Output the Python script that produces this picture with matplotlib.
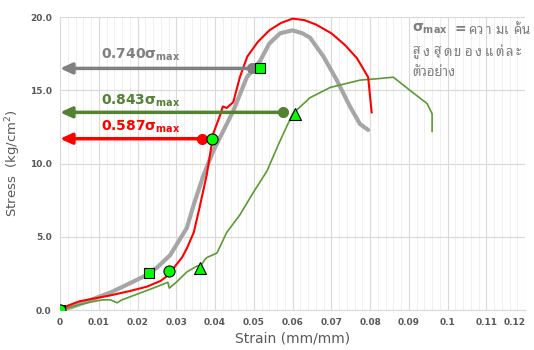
import matplotlib
matplotlib.use("Agg")
import matplotlib.pyplot as plt
from matplotlib.ticker import MultipleLocator, FormatStrFormatter

# ข้อมูลเส้นโค้ง stress-strain (อ่านจากกราฟ)
gray_strain = [0, 0.003, 0.006, 0.01, 0.013, 0.017, 0.0224, 0.025, 0.0284, 0.0327, 0.0345,
               0.037, 0.0396, 0.0447, 0.0482, 0.0516, 0.054, 0.0568, 0.060, 0.0625, 0.0645,
               0.068, 0.0714, 0.0748, 0.0774, 0.0795]
gray_stress = [0, 0.2, 0.5, 0.9, 1.2, 1.7, 2.4, 2.9, 3.75, 5.6, 7.2,
               9.2, 10.9, 13.6, 15.9, 17.0, 18.2, 18.9, 19.1, 18.9, 18.6,
               17.3, 15.7, 13.9, 12.7, 12.3]

red_strain = [0, 0.002, 0.005, 0.008, 0.0129, 0.018, 0.0224, 0.026, 0.028, 0.030, 0.0315,
              0.0327, 0.0345, 0.036, 0.0379, 0.0396, 0.0413, 0.042, 0.043, 0.0447, 0.0464,
              0.0483, 0.051, 0.054, 0.057, 0.060, 0.063, 0.066, 0.070, 0.0735, 0.0766,
              0.0795, 0.0804]
red_stress = [0, 0.3, 0.6, 0.75, 1.0, 1.3, 1.6, 2.0, 2.4, 3.1, 3.6,
              4.2, 5.3, 7.0, 9.3, 12.1, 13.3, 13.9, 13.8, 14.2, 15.9,
              17.3, 18.3, 19.1, 19.6, 19.9, 19.8, 19.5, 18.9, 18.1, 17.2,
              15.9, 13.5]

green_strain = [0, 0.004, 0.008, 0.011, 0.013, 0.0147, 0.016, 0.019, 0.022, 0.025, 0.0278,
                0.0282, 0.030, 0.0327, 0.0353, 0.0365, 0.0375, 0.038, 0.0405, 0.043, 0.0464,
                0.0498, 0.0534, 0.0565, 0.060, 0.0645, 0.0697, 0.0774, 0.082, 0.086, 0.0903,
                0.0947, 0.096, 0.096]
green_stress = [0, 0.3, 0.55, 0.7, 0.7, 0.5, 0.7, 1.0, 1.3, 1.6, 1.9,
                1.5, 1.9, 2.6, 3.0, 3.1, 3.5, 3.6, 3.9, 5.3, 6.5,
                8.0, 9.5, 11.4, 13.4, 14.5, 15.2, 15.7, 15.8, 15.9, 15.0,
                14.1, 13.4, 12.2]

# จุดสัญลักษณ์สีเขียว
square_x = [0, 0.023, 0.0516]
square_y = [0, 2.5, 16.5]
circle_x = [0, 0.028, 0.0393]
circle_y = [0, 2.7, 11.7]
tri_x = [0.036, 0.0605]
tri_y = [2.9, 13.4]

# ลูกศร sigma
arrow_labels = ["0.740", "0.843", "0.587"]
arrow_y = [16.5, 13.5, 11.7]
arrow_x = [0.0495, 0.0576, 0.0366]
label_y = [17.4, 14.3, 12.5]
arrow_colors = ["#808080", "#548235", "#ff0000"]

# หมายเหตุมุมขวาบน
note_line1 = "ความเค้น"
note_line2 = "สูงสุดของแต่ละ"
note_line3 = "ตัวอย่าง"

fig = plt.figure(figsize=(5.34, 3.5), dpi=100)
ax = fig.add_axes([0.1124, 0.114, 0.871, 0.837])

ax.set_xlim(0, 0.12)
ax.set_ylim(0, 20)
ax.xaxis.set_minor_locator(MultipleLocator(0.002))
ax.yaxis.set_major_locator(MultipleLocator(5))
ax.yaxis.set_major_formatter(FormatStrFormatter("%.1f"))
ax.set_xticks([i * 0.01 for i in range(13)])
ax.set_xticklabels(["0", "0.01", "0.02", "0.03", "0.04", "0.05", "0.06", "0.07",
                    "0.08", "0.09", "0.1", "0.11", "0.12"])
ax.grid(which="major", color="#d9d9d9", lw=0.8)
ax.grid(which="minor", axis="x", color="#ececec", lw=0.6)
ax.set_axisbelow(True)
for s in ax.spines.values():
    s.set_visible(False)
ax.spines["bottom"].set_visible(True)
ax.spines["bottom"].set_color("#d9d9d9")
ax.tick_params(which="both", length=0, colors="#595959", labelsize=6.5, pad=6)
for lab in ax.get_xticklabels() + ax.get_yticklabels():
    lab.set_fontweight("bold")
ax.get_xticklabels()[-1].set_horizontalalignment("right")

ax.set_xlabel("Strain (mm/mm)", color="#595959", fontsize=10, labelpad=3)
ax.set_ylabel("Stress  (kg/cm$^2$)", color="#595959", fontsize=9.5, labelpad=5)

ax.plot(gray_strain, gray_stress, color="#a6a6a6", lw=3.0, solid_capstyle="round", zorder=3)
ax.plot(green_strain, green_stress, color="#5b9b32", lw=1.2, zorder=4)
ax.plot(red_strain, red_stress, color="#ff0000", lw=1.5, zorder=4)

for lab, ly, ay, axx, c in zip(arrow_labels, label_y, arrow_y, arrow_x, arrow_colors):
    ax.annotate("", xy=(0, ay), xytext=(axx, ay), annotation_clip=False,
                arrowprops=dict(arrowstyle="-|>,head_length=0.7,head_width=0.32",
                                color=c, lw=2.5, shrinkA=0, shrinkB=0), zorder=5)
    ax.plot([axx], [ay], "o", color=c, ms=7, zorder=6)
    ax.text(0.0208, ly, lab + r"$\mathbf{\sigma}_{\mathbf{max}}$", color=c, fontsize=10,
            fontweight="bold", ha="center", va="center", zorder=7)

mk = dict(color="#00ff00", markeredgecolor="black", markeredgewidth=0.8, ls="none", zorder=8)
ax.plot(square_x, square_y, "s", ms=7, **mk)
ax.plot(circle_x, circle_y, "o", ms=8, **mk)
ax.plot(tri_x, tri_y, "^", ms=8, **mk)


# แยกตัวอักษรไทยเป็นกลุ่ม (รวมสระบน/ล่างและวรรณยุกต์เข้ากับพยัญชนะ)
def thai_clusters(s):
    marks = set([0x0E31] + list(range(0x0E34, 0x0E3B)) + list(range(0x0E47, 0x0E4F)))
    out = []
    for ch in s:
        if out and ord(ch) in marks:
            out[-1] += ch
        else:
            out.append(ch)
    return out


thai = ["Noto Sans Thai Looped", "Noto Sans Thai", "Sarabun", "DejaVu Sans"]
note_c = "#7f7f7f"
W, H = 534.0, 350.0


def spread(text, x0, step, y):
    for i, cl in enumerate(thai_clusters(text)):
        fig.text((x0 + i * step) / W, 1 - y / H, cl, color=note_c, fontsize=9.5,
                 fontweight="bold", va="center", family=thai)


fig.text(412 / W, 1 - 29 / H, r"$\mathbf{\sigma}_{\mathbf{max}}$", color=note_c,
         fontsize=10, va="center")
fig.text(455 / W, 1 - 29 / H, "=", color=note_c, fontsize=10, fontweight="bold", va="center")
spread(note_line1, 468, 9.0, 30)
spread(note_line2, 412, 10.4, 52)
fig.text(412 / W, 1 - 72 / H, note_line3, color=note_c, fontsize=9.5,
         fontweight="bold", va="center", family=thai)

fig.savefig("out.png", dpi=100)
